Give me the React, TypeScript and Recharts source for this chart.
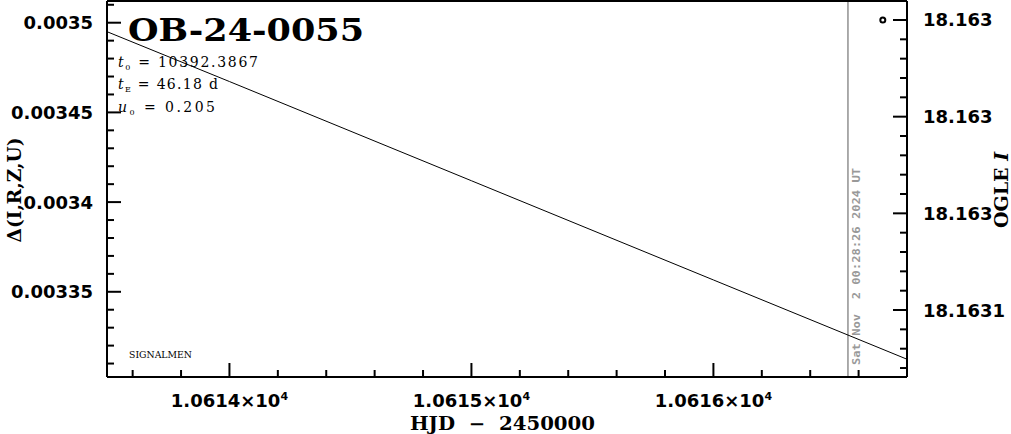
import { ComposedChart, Line, Scatter, XAxis, YAxis, ReferenceLine } from "recharts";

// model curve (HJD - 2450000 vs delta mag)
const hjd = [10613.494, 10614, 10615, 10616, 10616.8];
const deltaMag = [0.003495, 0.0034672, 0.0034119, 0.0033566, 0.0033124];

// single OGLE point at the top right
const ogleHjd = [10616.7];
const ogleMag = [18.16295];

const nowHjd = 10616.556;
const nowLabel = "Sat Nov  2 00:28:26 2024 UT";

const xMajorTicks = [10614, 10615, 10616];
const xTickLabels = ["1.0614", "1.0615", "1.0616"];
const leftMajorTicks = [0.00335, 0.0034, 0.00345, 0.0035];
const leftTickLabels = ["0.00335", "0.0034", "0.00345", "0.0035"];
const rightMajorTicks = [18.16295, 18.163, 18.16305, 18.1631];
const rightTickLabels = ["18.163", "18.163", "18.163", "18.1631"];

const lineRows = hjd.map((h, i) => ({ hjd: h, delta: deltaMag[i] }));
const ogleRows = ogleHjd.map((h, i) => ({ hjd: h, mag: ogleMag[i] }));

const steps = (from: number, to: number, step: number, dec: number) => {
  const out: number[] = [];
  for (let v = from; v <= to + step / 2; v += step) out.push(+v.toFixed(dec));
  return out;
};
const xTicks = steps(10613.6, 10616.6, 0.2, 1);
const leftTicks = steps(0.00331, 0.00351, 0.00001, 5);
const rightTicks = steps(18.16295, 18.16313, 0.00001, 5);

const W = 1011;
const H = 434;
const SANS = "DejaVu Sans";
const SERIF = "DejaVu Serif";

const findMajor = (list: number[], v: number, eps: number) =>
  list.findIndex((m) => Math.abs(m - v) < eps);

const BottomTick = (props: any) => {
  const { x, y, payload } = props;
  const i = findMajor(xMajorTicks, payload.value, 1e-6);
  const len = i >= 0 ? 14 : 7;
  return (
    <g>
      <line x1={x} x2={x} y1={y} y2={y - len} stroke="#000" strokeWidth={2} />
      {i >= 0 && (
        <text x={x} y={y + 30} textAnchor="middle" fontFamily={SANS} fontWeight="bold" fontSize={18} fill="#000">
          {xTickLabels[i]}×10
          <tspan dy={-7} fontSize={11}>4</tspan>
        </text>
      )}
    </g>
  );
};

const TopTick = (props: any) => {
  const { x, y } = props;
  return <line x1={x} x2={x} y1={y} y2={y + 7} stroke="#000" strokeWidth={2} />;
};

const LeftTick = (props: any) => {
  const { x, y, payload } = props;
  const i = findMajor(leftMajorTicks, payload.value, 1e-9);
  const len = i >= 0 ? 14 : 7;
  return (
    <g>
      <line x1={x} x2={x + len} y1={y} y2={y} stroke="#000" strokeWidth={2} />
      {i >= 0 && (
        <text x={x - 14} y={y + 6.5} textAnchor="end" fontFamily={SANS} fontWeight="bold" fontSize={18} fill="#000">
          {leftTickLabels[i]}
        </text>
      )}
    </g>
  );
};

const RightTick = (props: any) => {
  const { x, y, payload } = props;
  const i = findMajor(rightMajorTicks, payload.value, 1e-9);
  const len = i >= 0 ? 14 : 7;
  return (
    <g>
      <line x1={x} x2={x - len} y1={y} y2={y} stroke="#000" strokeWidth={2} />
      {i >= 0 && (
        <text x={x + 16} y={y + 6.5} textAnchor="start" fontFamily={SANS} fontWeight="bold" fontSize={18} fill="#000">
          {rightTickLabels[i]}
        </text>
      )}
    </g>
  );
};

const NowLabel = (props: any) => {
  const vb = props.viewBox || {};
  const tx = vb.x + 12;
  const ty = vb.y + vb.height - 12;
  return (
    <text
      x={tx}
      y={ty}
      transform={`rotate(-90, ${tx}, ${ty})`}
      fontFamily="DejaVu Sans Mono"
      fontWeight="bold"
      fontSize={11}
      fill="#999"
      textLength={197}
      lengthAdjust="spacingAndGlyphs"
      style={{ whiteSpace: "pre" }}
    >
      {nowLabel}
    </text>
  );
};

const OgleDot = (props: any) => (
  <circle cx={props.cx} cy={props.cy} r={2.5} fill="none" stroke="#000" strokeWidth={2} />
);

const axisLine = { stroke: "#000", strokeWidth: 2 };

export default function App() {
  return (
    <div style={{ position: "fixed", left: 0, top: 0, width: W, height: H, background: "#fff" }}>
      <ComposedChart width={W} height={H} margin={{ top: 0, right: 0, bottom: 0, left: 0 }}>
        <XAxis
          xAxisId="bottom"
          dataKey="hjd"
          type="number"
          domain={[10613.494, 10616.8]}
          allowDataOverflow
          ticks={xTicks}
          interval={0}
          tick={<BottomTick />}
          tickLine={false}
          tickSize={0}
          tickMargin={0}
          axisLine={axisLine}
          height={57}
        />
        <XAxis
          xAxisId="top"
          orientation="top"
          type="number"
          domain={[10613.494, 10616.8]}
          allowDataOverflow
          ticks={xTicks}
          interval={0}
          tick={<TopTick />}
          tickLine={false}
          tickSize={0}
          tickMargin={0}
          axisLine={axisLine}
          height={1}
        />
        <YAxis
          yAxisId="left"
          type="number"
          domain={[0.0033025, 0.0035121]}
          allowDataOverflow
          ticks={leftTicks}
          interval={0}
          tick={<LeftTick />}
          tickLine={false}
          tickSize={0}
          tickMargin={0}
          axisLine={axisLine}
          width={107}
        />
        <YAxis
          yAxisId="right"
          orientation="right"
          type="number"
          reversed
          domain={[18.16294018, 18.16313464]}
          allowDataOverflow
          ticks={rightTicks}
          interval={0}
          tick={<RightTick />}
          tickLine={false}
          tickSize={0}
          tickMargin={0}
          axisLine={axisLine}
          width={104}
        />
        <ReferenceLine
          xAxisId="bottom"
          yAxisId="left"
          x={nowHjd}
          stroke="#909090"
          strokeWidth={1.5}
          label={<NowLabel />}
        />
        <Line
          xAxisId="bottom"
          yAxisId="left"
          data={lineRows}
          dataKey="delta"
          type="linear"
          stroke="#000"
          strokeWidth={1}
          dot={false}
          activeDot={false}
          isAnimationActive={false}
        />
        <Scatter
          xAxisId="bottom"
          yAxisId="right"
          data={ogleRows}
          dataKey="mag"
          shape={<OgleDot />}
          isAnimationActive={false}
        />

        <text x={128} y={41} fontFamily={SERIF} fontWeight="bold" fontSize={32} fill="#000" textLength={236} lengthAdjust="spacingAndGlyphs">
          OB-24-0055
        </text>
        <g fontFamily={SERIF} fontSize={14} fill="#000" style={{ whiteSpace: "pre" }}>
          <text x={118} y={67} textLength={140} lengthAdjust="spacing">
            <tspan fontStyle="italic">t</tspan>
            <tspan fontSize={8} dy={3}>0</tspan>
            <tspan dy={-3}>{"  =  10392.3867"}</tspan>
          </text>
          <text x={118} y={89} textLength={100} lengthAdjust="spacing">
            <tspan fontStyle="italic">t</tspan>
            <tspan fontSize={8} dy={3}>E</tspan>
            <tspan dy={-3}>{"  =  46.18  d"}</tspan>
          </text>
          <text x={118} y={112} textLength={97} lengthAdjust="spacing">
            <tspan fontStyle="italic">u</tspan>
            <tspan fontSize={8} dy={3}>0</tspan>
            <tspan dy={-3}>{"  =  0.205"}</tspan>
          </text>
        </g>
        <text x={129} y={358} fontFamily={SERIF} fontSize={9} fill="#000" textLength={63} lengthAdjust="spacingAndGlyphs">
          SIGNALMEN
        </text>
        <text
          x={410}
          y={430}
          fontFamily={SERIF}
          fontWeight="bold"
          fontSize={18}
          fill="#000"
          textLength={185}
          lengthAdjust="spacingAndGlyphs"
          style={{ whiteSpace: "pre" }}
        >
          {"HJD  −  2450000"}
        </text>
        <text
          x={21}
          y={190}
          transform="rotate(-90, 21, 190)"
          textAnchor="middle"
          fontFamily={SERIF}
          fontWeight="bold"
          fontSize={19}
          fill="#000"
          textLength={105}
          lengthAdjust="spacingAndGlyphs"
        >
          Δ(I,R,Z,U)
        </text>
        <text
          x={1008}
          y={190}
          transform="rotate(-90, 1008, 190)"
          textAnchor="middle"
          fontFamily={SERIF}
          fontWeight="bold"
          fontSize={19}
          fill="#000"
          style={{ whiteSpace: "pre" }}
        >
          {"OGLE "}
          <tspan fontStyle="italic">I</tspan>
        </text>
      </ComposedChart>
    </div>
  );
}
